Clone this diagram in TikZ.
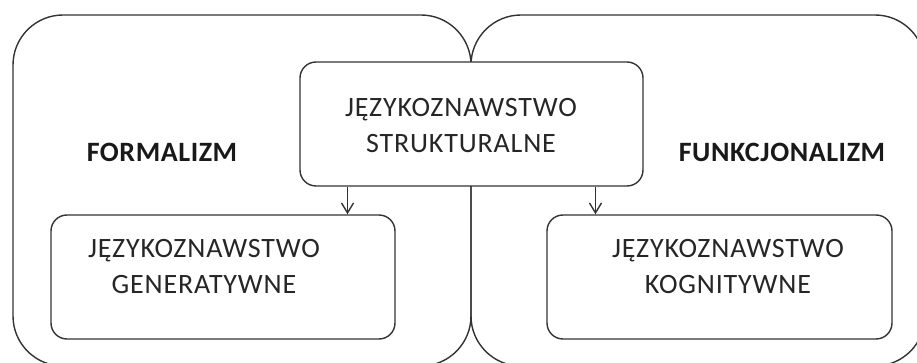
\documentclass[tikz,border=0pt]{standalone}
\usepackage{fontspec}
\setmainfont{Carlito}
\usetikzlibrary{calc}
\usetikzlibrary{arrows.meta}

\tikzset{
	region/.style={draw=black!80, line width=0.7pt, rounded corners=25pt, minimum width=229pt, minimum height=175.5pt},
	box/.style={draw=black!80, fill=white, line width=0.7pt, rounded corners=8pt, minimum width=172pt, minimum height=62pt},
	boxtext/.style={align=center, text=black!85, inner sep=0pt, font=\addfontfeature{LetterSpace=3}\fontsize{14}{18}\selectfont},
	title/.style={text=black!90, inner sep=0pt, font=\bfseries\addfontfeature{LetterSpace=2}\fontsize{14}{18}\selectfont},
	arr/.style={-{Straight Barb[length=5pt,width=6pt]}, draw=black!80, line width=0.7pt}
}

\begin{document}
\begin{tikzpicture}[x=0.5pt,y=-0.5pt]
			\useasboundingbox (0,0) rectangle (917,363);
			\clip (0,0) rectangle (917,363);
			% the two schools
			\node[region] (formal) at (242,190.5) {};
			\node[region, minimum width=227pt] (funct) at (698,190.5) {};
			\node[title] (formaltext) at (162,152) {FORMALIZM};
			\node[title] (functtext) at (782,152) {FUNKCJONALIZM};
			% boxes
			\node[box, minimum width=171.5pt] (struct) at (471.5,124) {};
			\node[box] (gen) at (223,277) {};
			\node[box, minimum width=172.5pt] (kog) at (719.5,277) {};
			\node[boxtext] (structtext) at (461,126) {JĘZYKOZNAWSTWO\\STRUKTURALNE};
			\node[boxtext] (gentext) at (204,267) {JĘZYKOZNAWSTWO\\GENERATYWNE};
			\node[boxtext] (kogtext) at (728,267) {JĘZYKOZNAWSTWO\\KOGNITYWNE};
			% arrows
			\draw[arr] ($(struct.south west)!0.14!(struct.south east)$) coordinate (genfrom) -- (genfrom |- gen.north);
			\draw[arr] ($(struct.south west)!0.86!(struct.south east)$) coordinate (kogfrom) -- (kogfrom |- kog.north);
		\end{tikzpicture}
\end{document}
